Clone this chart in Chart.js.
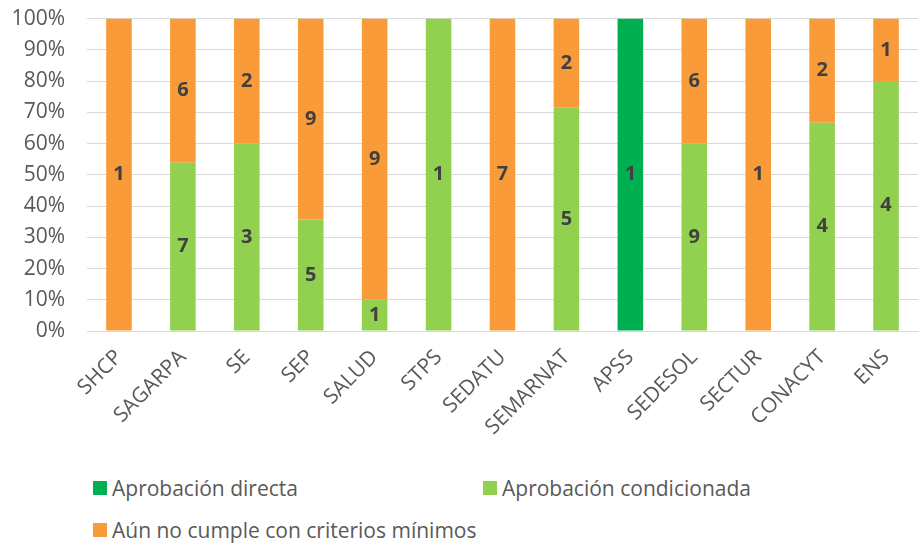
<!DOCTYPE html>
<html>
<head>
<meta charset="utf-8">
<script src="https://cdn.jsdelivr.net/npm/chart.js@4/dist/chart.umd.min.js"></script>
<style>
    body { margin: 0; background: #fff; font-family: "Open Sans", sans-serif; overflow: hidden; }
    #wrap { position: relative; width: 921px; height: 544px; overflow: hidden; }
    #chart { position: absolute; left: 0; top: -16px; }
    .leg { position: absolute; font-size: 21px; color: #595959; display: flex; align-items: center; }
    .leg span.box { width: 14px; height: 14px; display: inline-block; margin-right: 5px; }
</style>
</head>
<body>
<div id="wrap">
    <canvas id="chart" width="921" height="461"></canvas>
    <div id="legend"></div>
</div>
<script>
const categories = ["SHCP", "SAGARPA", "SE", "SEP", "SALUD", "STPS", "SEDATU", "SEMARNAT", "APSS", "SEDESOL", "SECTUR", "CONACYT", "ENS"];
const directa = [0, 0, 0, 0, 0, 0, 0, 0, 1, 0, 0, 0, 0];
const condicionada = [0, 7, 3, 5, 1, 1, 0, 5, 0, 9, 0, 4, 4];
const noCumple = [1, 6, 2, 9, 9, 0, 7, 2, 0, 6, 1, 2, 1];
const seriesNames = ["Aprobación directa", "Aprobación condicionada", "Aún no cumple con criterios mínimos"];
const colors = ["#00B050", "#92D050", "#F99B38"];

const totals = categories.map((_, i) => directa[i] + condicionada[i] + noCumple[i]);
const pct = arr => arr.map((v, i) => v / totals[i] * 100);

// draws the count inside each segment
const countLabels = {
    id: "countLabels",
    afterDatasetsDraw(chart) {
        const ctx = chart.ctx;
        ctx.save();
        ctx.font = "bold 20px 'Open Sans', sans-serif";
        ctx.fillStyle = "#404040";
        ctx.textAlign = "center";
        ctx.textBaseline = "middle";
        chart.data.datasets.forEach((ds, di) => {
            chart.getDatasetMeta(di).data.forEach((bar, i) => {
                const n = ds.counts[i];
                if (!n) return;
                ctx.fillText(String(n), bar.x, (bar.y + bar.base) / 2);
            });
        });
        ctx.restore();
    },
};

new Chart(document.getElementById("chart"), {
    type: "bar",
    data: {
        labels: categories,
        datasets: [
            { label: seriesNames[0], data: pct(directa), counts: directa, backgroundColor: colors[0] },
            { label: seriesNames[1], data: pct(condicionada), counts: condicionada, backgroundColor: colors[1] },
            { label: seriesNames[2], data: pct(noCumple), counts: noCumple, backgroundColor: colors[2] },
        ],
    },
    options: {
        responsive: false,
        animation: false,
        layout: { padding: { top: 0, right: 3, left: 0, bottom: 0 } },
        datasets: { bar: { barPercentage: 0.4, categoryPercentage: 1 } },
        plugins: { legend: { display: false }, tooltip: { enabled: false } },
        scales: {
            x: {
                stacked: true,
                grid: { display: false },
                border: { color: "#D9D9D9" },
                ticks: { color: "#595959", font: { size: 21, family: "'Open Sans', sans-serif" }, minRotation: 45, maxRotation: 45, padding: 6 },
                afterFit: s => { s.height = 114; },
            },
            y: {
                stacked: true,
                min: 0,
                max: 100,
                grid: { color: "#D9D9D9", drawTicks: false },
                border: { display: false },
                ticks: { stepSize: 10, color: "#595959", padding: 22, font: { size: 21, family: "'Open Sans', sans-serif" }, callback: v => v + "%" },
                afterFit: s => { s.width = 87; },
            },
        },
    },
    plugins: [countLabels],
});

const legendPos = [[93, 474], [483, 474], [93, 516]];
document.getElementById("legend").innerHTML = seriesNames.map((name, i) =>
    `<div class="leg" style="left:${legendPos[i][0]}px;top:${legendPos[i][1]}px"><span class="box" style="background:${colors[i]}"></span>${name}</div>`
).join("");
</script>
</body>
</html>
